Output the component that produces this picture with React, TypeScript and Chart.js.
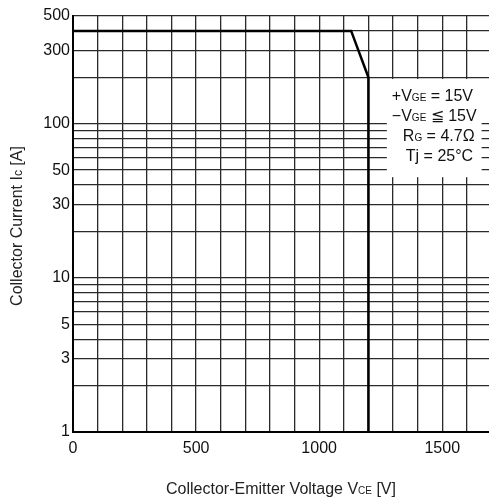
import React, { useEffect, useRef } from "react";
import { Chart, registerables } from "chart.js";

Chart.register(...registerables);

// ---- data ----
const voltage: number[] = [0, 1130, 1200, 1200];
const current: number[] = [400, 400, 200, 1];

const xGridValues: number[] = [0, 100, 200, 300, 400, 500, 600, 700, 800, 900, 1000, 1100, 1200, 1300, 1400, 1500, 1600];
const xTickLabels: number[] = [0, 500, 1000, 1500];
const yGridValues: number[] = [1, 2, 3, 4, 5, 6, 7, 8, 9, 10, 20, 30, 40, 50, 60, 70, 80, 90, 100, 200, 300, 400, 500];
const yTickLabels: number[] = [1, 3, 5, 10, 30, 50, 100, 300, 500];

const conditions: string[][] = [
  ["+V", "GE", " = 15V"],
  ["\u2212V", "GE", " \u2266 15V"],
  ["R", "G", " = 4.7\u03A9"],
  ["Tj = 25\u00B0C", "", ""],
];

const FONT = "'Liberation Sans', Arial, sans-serif";

type Part = [string, string];

function drawParts(ctx: CanvasRenderingContext2D, parts: Part[], x: number, y: number, align: "left" | "center") {
  let total = 0;
  for (const [t, f] of parts) {
    ctx.font = f;
    total += ctx.measureText(t).width;
  }
  let cx = align === "center" ? x - total / 2 : x;
  ctx.textAlign = "left";
  ctx.textBaseline = "alphabetic";
  for (const [t, f] of parts) {
    ctx.font = f;
    ctx.fillText(t, cx, y);
    cx += ctx.measureText(t).width;
  }
}

const annotPlugin = {
  id: "annot",
  afterDraw(chart: any) {
    const ctx: CanvasRenderingContext2D = chart.ctx;
    const xs = chart.scales.x;
    const ys = chart.scales.y;
    const area = chart.chartArea;
    ctx.save();
    // condition box
    const bx0 = xs.getPixelForValue(1275);
    const bx1 = xs.getPixelForValue(1660);
    const by0 = ys.getPixelForValue(195);
    const by1 = ys.getPixelForValue(45);
    ctx.fillStyle = "#fff";
    ctx.fillRect(bx0, by0, bx1 - bx0, by1 - by0);
    ctx.fillStyle = "#111";
    const big = `16px ${FONT}`;
    const small = `10px ${FONT}`;
    const lefts = [391, 391, 402, 405];
    const bases = [99, 119, 139, 159];
    conditions.forEach((c, i) => {
      const parts: Part[] = [[c[0], big]];
      if (c[1]) parts.push([c[1], small]);
      if (c[2]) parts.push([c[2], big]);
      drawParts(ctx, parts, bx0 + (lefts[i] - 386), by0 + (bases[i] - 77), "left");
    });
    // axis titles
    const f16 = `16px ${FONT}`;
    const f10 = `10px ${FONT}`;
    ctx.fillStyle = "#222";
    drawParts(
      ctx,
      [["Collector-Emitter Voltage V", f16], ["CE", f10], [" [V]", f16]],
      (area.left + area.right) / 2,
      494,
      "center"
    );
    ctx.save();
    ctx.translate(22, (area.top + area.bottom) / 2 + 2);
    ctx.rotate(-Math.PI / 2);
    drawParts(ctx, [["Collector Current I", f16], ["c", `12px ${FONT}`], [" [A]", f16]], 0, 0, "center");
    ctx.restore();
    ctx.restore();
  },
};

export default function App() {
  const ref = useRef<HTMLCanvasElement | null>(null);
  useEffect(() => {
    if (!ref.current) return;
    const chart = new Chart(ref.current, {
      type: "scatter",
      data: {
        datasets: [
          {
            data: voltage.map((v, i) => ({ x: v, y: current[i] })),
            showLine: true,
            borderColor: "#000",
            borderWidth: 2.5,
            pointRadius: 0,
            fill: false,
          },
        ],
      },
      options: {
        responsive: false,
        animation: false,
        events: [],
        layout: { padding: { top: 16, right: 0, left: 0, bottom: 0 } },
        plugins: { legend: { display: false }, tooltip: { enabled: false } },
        scales: {
          x: {
            type: "linear",
            min: 0,
            max: 1690,
            afterBuildTicks: (s: any) => {
              s.ticks = xGridValues.map((v) => ({ value: v }));
            },
            afterFit: (s: any) => {
              s.height = 68;
            },
            ticks: {
              autoSkip: false,
              maxRotation: 0,
              padding: 7,
              color: "#111",
              font: { family: FONT, size: 16 },
              callback: (v: any) => (xTickLabels.includes(Number(v)) ? String(v) : ""),
            },
            grid: { color: "#2a2a2a", lineWidth: 1.3, drawTicks: false },
            border: { display: true, color: "#000", width: 2 },
          },
          y: {
            type: "logarithmic",
            min: 1,
            max: 500,
            afterBuildTicks: (s: any) => {
              s.ticks = yGridValues.map((v) => ({ value: v }));
            },
            afterFit: (s: any) => {
              s.width = 73;
            },
            ticks: {
              autoSkip: false,
              padding: 3,
              color: "#111",
              font: { family: FONT, size: 16 },
              callback: (v: any) => (yTickLabels.includes(Number(v)) ? String(v) : ""),
            },
            grid: { color: "#2a2a2a", lineWidth: 1.3, drawTicks: false },
            border: { display: true, color: "#000", width: 2 },
          },
        },
      },
      plugins: [annotPlugin],
    } as any);
    return () => chart.destroy();
  }, []);
  return (
    <div style={{ position: "fixed", left: 0, top: 0, width: 489, height: 500, background: "#fff" }}>
      <canvas ref={ref} width={489} height={500} style={{ display: "block" }} />
    </div>
  );
}
